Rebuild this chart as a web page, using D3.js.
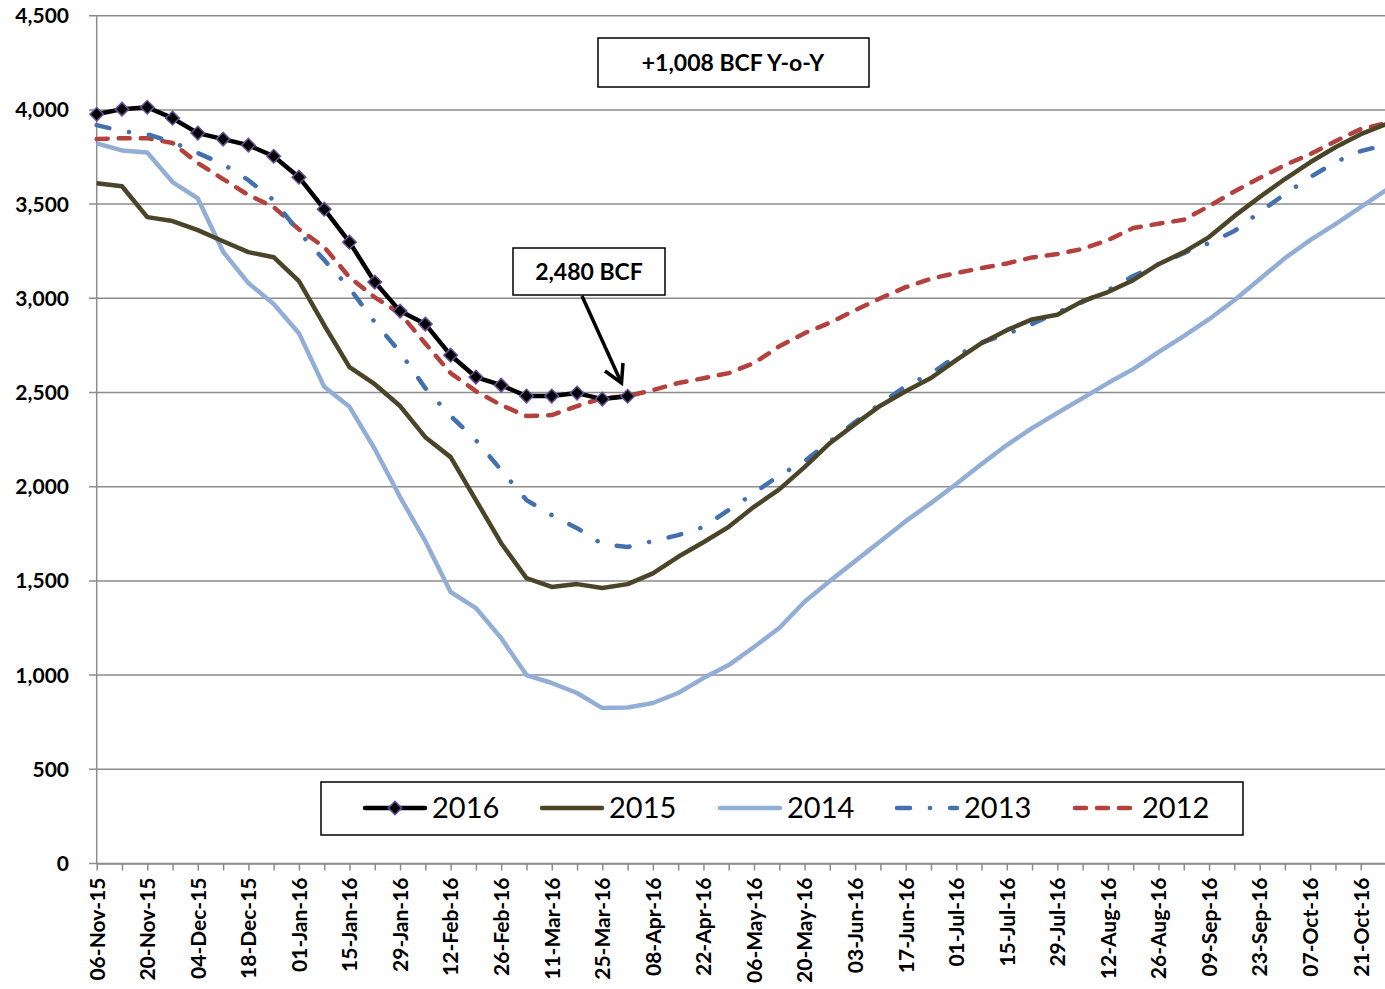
<!DOCTYPE html>
<html>
<head>
<meta charset="utf-8">
<script src="https://cdn.jsdelivr.net/npm/d3@7"></script>
<style>
    body { margin: 0; background: #fff; }
    svg { display: block; font-family: Lato, "Open Sans", sans-serif; }
</style>
</head>
<body>
<svg id="storageSVG" width="1385" height="989"></svg>
<script>

var weeks = ['06-Nov-15', '13-Nov-15', '20-Nov-15', '27-Nov-15', '04-Dec-15', '11-Dec-15', '18-Dec-15', '25-Dec-15',
    '01-Jan-16', '08-Jan-16', '15-Jan-16', '22-Jan-16', '29-Jan-16', '05-Feb-16', '12-Feb-16', '19-Feb-16',
    '26-Feb-16', '04-Mar-16', '11-Mar-16', '18-Mar-16', '25-Mar-16', '01-Apr-16', '08-Apr-16', '15-Apr-16',
    '22-Apr-16', '29-Apr-16', '06-May-16', '13-May-16', '20-May-16', '27-May-16', '03-Jun-16', '10-Jun-16',
    '17-Jun-16', '24-Jun-16', '01-Jul-16', '08-Jul-16', '15-Jul-16', '22-Jul-16', '29-Jul-16', '05-Aug-16',
    '12-Aug-16', '19-Aug-16', '26-Aug-16', '02-Sep-16', '09-Sep-16', '16-Sep-16', '23-Sep-16', '30-Sep-16',
    '07-Oct-16', '14-Oct-16', '21-Oct-16', '28-Oct-16'];

var yTicks = [0, 500, 1000, 1500, 2000, 2500, 3000, 3500, 4000, 4500];

var s2016 = [3977, 4004, 4014, 3956, 3877, 3845, 3813, 3754, 3643, 3473, 3298, 3086, 2932, 2863, 2698, 2582,
    2539, 2481, 2481, 2497, 2465, 2480];

var s2015 = [3611, 3595, 3431, 3410, 3362, 3303, 3245, 3218, 3091, 2857, 2635, 2544, 2428, 2263, 2157, 1929,
    1700, 1515, 1468, 1483, 1462, 1483, 1540, 1628, 1705, 1787, 1893, 1986, 2104, 2231, 2332, 2430,
    2507, 2577, 2672, 2762, 2831, 2888, 2913, 2985, 3033, 3096, 3181, 3245, 3325, 3436, 3537, 3633,
    3722, 3802, 3871, 3924];

var s2014 = [3822, 3785, 3774, 3617, 3530, 3247, 3081, 2970, 2815, 2530, 2424, 2200, 1945, 1711, 1441, 1356,
    1196, 1000, 958, 905, 825, 828, 852, 905, 984, 1053, 1149, 1250, 1389, 1499, 1605, 1711,
    1817, 1913, 2014, 2120, 2221, 2311, 2391, 2470, 2550, 2624, 2714, 2799, 2889, 2990, 3101, 3213,
    3309, 3394, 3484, 3574];

var s2013 = [3919, 3887, 3871, 3829, 3771, 3712, 3627, 3521, 3352, 3203, 3054, 2873, 2714, 2523, 2375, 2247,
    2088, 1929, 1849, 1780, 1695, 1680, 1711, 1743, 1786, 1876, 1966, 2060, 2135, 2240, 2343, 2440,
    2534, 2600, 2693, 2765, 2810, 2863, 2926, 2980, 3043, 3118, 3181, 3240, 3293, 3357, 3457, 3553,
    3643, 3723, 3781, 3815];

var s2012 = [3845, 3850, 3850, 3824, 3718, 3633, 3548, 3484, 3366, 3272, 3112, 3005, 2920, 2760, 2603, 2507,
    2433, 2375, 2380, 2428, 2470, 2481, 2513, 2550, 2576, 2603, 2656, 2745, 2815, 2870, 2937, 3000,
    3059, 3104, 3134, 3160, 3185, 3217, 3235, 3262, 3309, 3373, 3396, 3417, 3489, 3567, 3638, 3707,
    3765, 3834, 3898, 3929];

var series = [
    { name: '2012', values: s2012, color: '#b3423f', dash: '11,11' },
    { name: '2013', values: s2013, color: '#4471ad', dash: '13,20,0.1,20' },
    { name: '2014', values: s2014, color: '#93aed6', dash: null },
    { name: '2015', values: s2015, color: '#4a4429', dash: null },
    { name: '2016', values: s2016, color: '#000000', dash: null, marker: true }
];

var svg = d3.select('#storageSVG');

var x = d3.scaleLinear()
    .domain([0, weeks.length - 1])
    .range([96.7, 1386]);

var y = d3.scaleLinear()
    .domain([0, 4500])
    .range([863.5, 15.7]);

// gridlines
svg.selectAll('.grid')
    .data(yTicks)
    .enter()
    .append('line')
        .attr('class', 'grid')
        .attr('x1', 89)
        .attr('x2', 1385)
        .attr('y1', function(d) { return y(d); })
        .attr('y2', function(d) { return y(d); })
        .attr('stroke', '#8c8c8c')
        .attr('stroke-width', 1.5);

// y axis
svg.append('line')
    .attr('x1', x(0)).attr('x2', x(0))
    .attr('y1', y(4500)).attr('y2', y(0))
    .attr('stroke', '#8c8c8c')
    .attr('stroke-width', 1.5);

svg.selectAll('.ylabel')
    .data(yTicks)
    .enter()
    .append('text')
        .attr('class', 'ylabel')
        .attr('x', 69)
        .attr('y', function(d) { return y(d) + 7.5; })
        .attr('text-anchor', 'end')
        .attr('font-size', 21)
        .attr('font-weight', 'bold')
        .text(function(d) { return d3.format(',')(d); });

// x axis
var xAxis = d3.axisBottom(x)
    .tickValues(d3.range(weeks.length))
    .tickSize(7)
    .tickSizeOuter(0)
    .tickFormat(function(d) { return d % 2 === 0 ? weeks[d] : ''; });

var gx = svg.append('g')
    .attr('transform', 'translate(0,' + y(0) + ')')
    .call(xAxis);

gx.select('.domain').attr('stroke', '#8c8c8c').attr('stroke-width', 1.5);
gx.selectAll('.tick line').attr('stroke', '#8c8c8c').attr('stroke-width', 1.5);
gx.selectAll('.tick text')
    .attr('font-family', 'Lato, sans-serif')
    .attr('font-size', 21)
    .attr('font-weight', 'bold')
    .attr('fill', '#000')
    .attr('text-anchor', 'end')
    .attr('transform', 'rotate(-90)')
    .attr('x', -14)
    .attr('y', 0)
    .attr('dy', '0.35em');

// lines
var line = d3.line()
    .x(function(d, i) { return x(i); })
    .y(function(d) { return y(d); });

var plot = svg.append('g');

series.forEach(function(s) {
    plot.append('path')
        .datum(s.values)
        .attr('d', line)
        .attr('fill', 'none')
        .attr('stroke', s.color)
        .attr('stroke-width', 4.5)
        .attr('stroke-linejoin', 'round')
        .attr('stroke-linecap', s.dash ? 'round' : 'butt')
        .attr('stroke-dasharray', s.dash);
});

var diamond = d3.symbol().type(d3.symbolSquare).size(92);

plot.selectAll('.marker')
    .data(s2016)
    .enter()
    .append('path')
        .attr('class', 'marker')
        .attr('d', diamond)
        .attr('transform', function(d, i) {
            return 'translate(' + x(i) + ',' + y(d) + ') rotate(45)';
        })
        .attr('fill', '#000')
        .attr('stroke', '#6a4f98')
        .attr('stroke-width', 1.5);

// annotation boxes
svg.append('rect')
    .attr('x', 598).attr('y', 38)
    .attr('width', 271).attr('height', 49)
    .attr('fill', '#fff')
    .attr('stroke', '#000')
    .attr('stroke-width', 1.5);

svg.append('text')
    .attr('x', 733).attr('y', 71)
    .attr('text-anchor', 'middle')
    .attr('font-size', 23)
    .attr('font-weight', 'bold')
    .text('+1,008 BCF Y-o-Y');

svg.append('rect')
    .attr('x', 513).attr('y', 248)
    .attr('width', 152).attr('height', 47)
    .attr('fill', '#fff')
    .attr('stroke', '#000')
    .attr('stroke-width', 1.5);

svg.append('text')
    .attr('x', 589).attr('y', 280)
    .attr('text-anchor', 'middle')
    .attr('font-size', 23)
    .attr('font-weight', 'bold')
    .text('2,480 BCF');

// arrow
svg.append('line')
    .attr('x1', 582).attr('y1', 296)
    .attr('x2', 621).attr('y2', 382)
    .attr('stroke', '#000')
    .attr('stroke-width', 3.5);

svg.append('path')
    .attr('d', 'M605,371 L621.5,383 L623,363')
    .attr('fill', 'none')
    .attr('stroke', '#000')
    .attr('stroke-width', 3.5)
    .attr('stroke-linejoin', 'miter');

// legend
var legend = svg.append('g');

legend.append('rect')
    .attr('x', 321).attr('y', 782)
    .attr('width', 922).attr('height', 53)
    .attr('fill', '#fff')
    .attr('stroke', '#000')
    .attr('stroke-width', 1.5);

var legendItems = [
    { s: series[4], x: 363 },
    { s: series[3], x: 540 },
    { s: series[2], x: 718 },
    { s: series[1], x: 895 },
    { s: series[0], x: 1073 }
];

legendItems.forEach(function(item) {
    legend.append('line')
        .attr('x1', item.x + 2).attr('x2', item.x + 62)
        .attr('y1', 808).attr('y2', 808)
        .attr('stroke', item.s.color)
        .attr('stroke-width', 4.5)
        .attr('stroke-linecap', 'round')
        .attr('stroke-dasharray', item.s.dash);

    if (item.s.marker) {
        legend.append('path')
            .attr('d', diamond)
            .attr('transform', 'translate(' + (item.x + 32) + ',808) rotate(45)')
            .attr('fill', '#000')
            .attr('stroke', '#6a4f98')
            .attr('stroke-width', 1.5);
    }

    legend.append('text')
        .attr('x', item.x + 69)
        .attr('y', 818)
        .attr('font-size', 29)
        .text(item.s.name);
});

</script>
</body>
</html>
